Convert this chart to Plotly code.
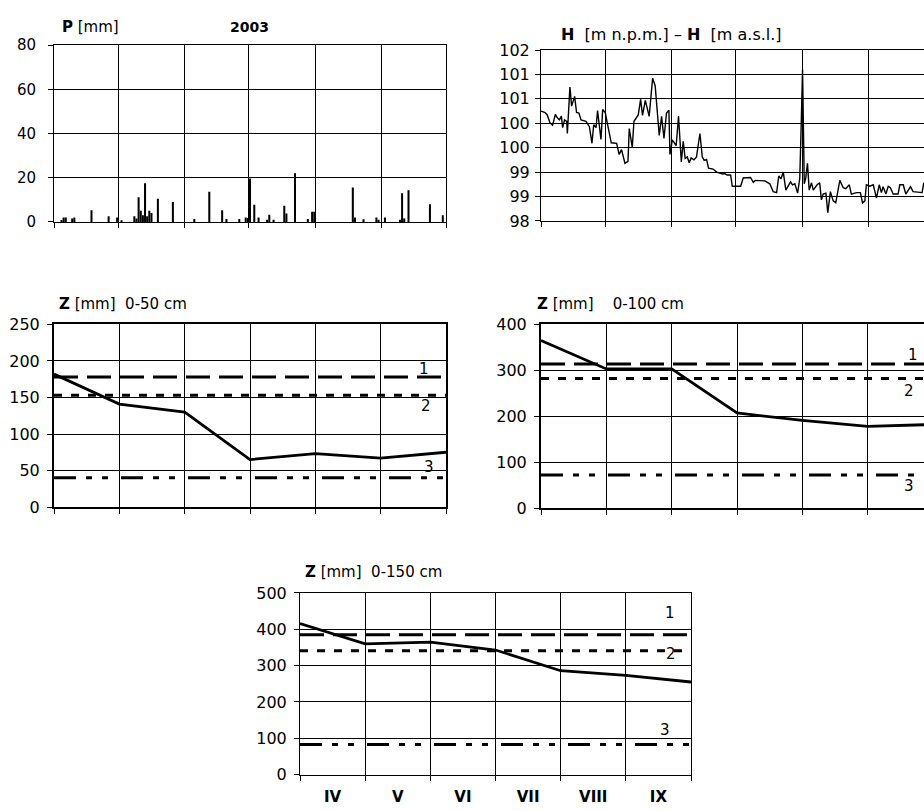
import plotly.graph_objects as go

W, H = 924, 811

# ---- season calendar (1 IV - 30 IX 2003) ----
month_names = ["IV", "V", "VI", "VII", "VIII", "IX"]
month_len = [30, 31, 30, 31, 31, 30]
month_edges = [0]
for n in month_len:
    month_edges.append(month_edges[-1] + n)

# ---- daily precipitation P [mm]; day index counted from 1 April ----
rain_day = [3, 4, 5, 8, 9, 17, 25, 29, 31, 37, 38, 39, 40, 41, 42, 43, 44, 45,
            48, 55, 65, 72, 78, 80, 86, 89, 90, 91, 93, 95, 99, 100, 102, 107,
            108, 112, 118, 120, 121, 139, 140, 144, 150, 151, 154, 161, 162,
            163, 165, 175, 181]
rain_mm = [0.8, 2.0, 2.0, 1.5, 2.0, 5.3, 2.6, 2.0, 0.7, 2.5, 1.5, 11.2, 5.0,
           3.0, 17.5, 2.5, 5.0, 4.0, 10.5, 9.0, 1.3, 13.6, 5.3, 1.3, 1.3, 2.0,
           1.8, 19.6, 7.8, 2.0, 1.0, 3.2, 1.0, 7.3, 3.8, 22.0, 1.3, 4.6, 4.6,
           15.6, 2.0, 1.2, 2.0, 1.0, 2.0, 1.0, 13.0, 1.5, 14.3, 8.0, 3.0]

# ---- water level H [m a.s.l.]; time in days from 1 April ----
stage_day = [0.0, 1.9, 2.9, 4.2, 5.4, 6.7, 7.6, 8.6, 9.5, 10.1, 11.0, 12.0,
             12.3, 13.5, 14.3, 15.7, 16.6, 17.7, 18.7, 21.0, 22.6, 23.8, 24.6,
             25.7, 26.4, 28.0, 28.8, 30.0, 31.1, 32.8, 35.3, 36.5, 37.6, 39.2,
             40.6, 41.2, 42.6, 43.4, 45.4, 46.5, 47.4, 48.7, 50.5, 52.1, 53.3,
             55.2, 56.3, 57.4, 58.6, 59.7, 60.2, 61.3, 63.1, 64.2, 65.5, 66.4,
             67.3, 68.3, 69.2, 70.1, 71.4, 72.6, 74.2, 75.3, 76.2, 77.3, 78.2,
             80.4, 82.0, 83.5, 84.8, 85.8, 86.9, 88.5, 89.3, 93.2, 94.4, 97.8,
             99.1, 100.0, 104.5, 106.8, 108.4, 110.0, 111.0, 112.0, 113.1,
             114.3, 115.4, 116.5, 117.4, 118.5, 119.8, 120.8, 121.5, 122.1,
             122.9, 123.6, 124.4, 125.2, 126.3, 127.1, 128.9, 130.1, 130.9,
             131.7, 133.0, 133.9, 135.1, 136.4, 137.6, 139.5, 141.1, 142.3,
             143.9, 144.9, 147.3, 149.1, 150.1, 151.2, 151.9, 153.5, 155.1,
             156.6, 157.9, 158.9, 159.7, 161.0, 162.1, 163.1, 164.4, 166.7,
             167.5, 169.1, 170.3, 171.9, 172.5, 173.7, 176.1, 177.9, 178.7,
             180.0, 182.0]
stage_m = [100.25, 100.22, 100.17, 100.01, 99.96, 100.18, 100.11, 100.07,
           100.15, 99.91, 100.07, 100.04, 99.79, 100.74, 100.35, 100.55,
           100.22, 100.21, 100.07, 100.04, 99.93, 99.59, 99.97, 99.91, 100.26,
           99.67, 100.28, 100.22, 99.97, 99.60, 99.59, 99.36, 99.46, 99.18,
           99.22, 99.89, 99.51, 100.04, 100.17, 100.49, 100.16, 100.47,
           100.14, 100.92, 100.77, 99.75, 100.14, 99.69, 100.21, 100.27, 99.36,
           99.66, 99.54, 100.15, 99.21, 99.63, 99.28, 99.31, 99.19, 99.29,
           99.25, 99.31, 99.79, 99.31, 99.24, 99.26, 99.08, 99.06, 99.00,
           98.98, 98.96, 98.97, 98.94, 98.94, 98.71, 98.71, 98.88, 98.89,
           98.79, 98.83, 98.82, 98.76, 98.60, 98.58, 98.92, 98.86, 99.00,
           98.63, 98.71, 98.80, 98.74, 98.76, 98.57, 98.87, 100.01, 101.10,
           98.76, 98.88, 99.18, 98.63, 98.78, 98.63, 98.74, 98.78, 98.43,
           98.55, 98.57, 98.17, 98.60, 98.41, 98.37, 98.83, 98.68, 98.66,
           98.74, 98.55, 98.58, 98.58, 98.37, 98.41, 98.74, 98.71, 98.74,
           98.47, 98.74, 98.58, 98.70, 98.55, 98.71, 98.68, 98.55, 98.55,
           98.74, 98.74, 98.55, 98.66, 98.70, 98.60, 98.58, 98.58, 98.78,
           98.70, 98.66]
stage_ticks = [98.0, 98.5, 99.0, 99.5, 100.0, 100.5, 101.0, 101.5]
stage_tick_text = ["98", "99", "99", "100", "100", "101", "101", "102"]

# ---- soil water storage Z [mm] at month boundaries (1 IV ... 1 X) ----
z50 = [182, 141, 130, 65, 73, 67, 75]
z100 = [365, 303, 303, 207, 191, 178, 182]
z150 = [416, 360, 365, 343, 286, 273, 255]
# reference storage levels 1, 2, 3 for each layer
z50_levels = [178, 153, 40]
z100_levels = [314, 282, 72]
z150_levels = [385, 341, 83]
level_names = ["1", "2", "3"]

TICK_FONT = dict(family="DejaVu Sans", size=16, color="black")
TEXT_FONT = dict(family="DejaVu Sans", size=15, color="black")


def xdom(left, right):
    return [left / W, min(right / W, 1.0)]


def ydom(top, bottom):
    return [1 - bottom / H, 1 - top / H]


fig = go.Figure()

# panel boxes in pixels: (left, right, top, bottom)
panels = {
    "1": (54, 446, 37, 218),    # precipitation
    "2": (541, 933, 42, 217),   # water level (right part runs off the page)
    "3": (54, 446, 323, 510),   # Z 0-50 cm
    "4": (541, 933, 323, 511),  # Z 0-100 cm (right part runs off the page)
    "5": (300, 691, 598, 784),  # Z 0-150 cm
}

axis_common = dict(showline=True, linecolor="black", linewidth=1,
                   ticks="outside", ticklen=5, tickcolor="black",
                   zeroline=False, gridcolor="black", gridwidth=1)

for k, (l, r, t, b) in panels.items():
    xa = "xaxis" if k == "1" else f"xaxis{k}"
    ya = "yaxis" if k == "1" else f"yaxis{k}"
    clipped = r > W
    fig.layout[xa] = dict(axis_common, domain=xdom(l, r), anchor=f"y{'' if k == '1' else k}",
                          mirror=True)
    fig.layout[ya] = dict(axis_common, domain=ydom(t, b), anchor=f"x{'' if k == '1' else k}",
                          mirror=not clipped, tickfont=TICK_FONT)

# fraction of the full axis that is visible on the clipped panels
vis = (W - panels["2"][0]) / (panels["2"][1] - panels["2"][0])

# ---- P panel ----
fig.add_trace(go.Bar(x=[d + 0.5 for d in rain_day], y=rain_mm, width=0.95,
                     marker=dict(color="black", line=dict(width=0)),
                     xaxis="x", yaxis="y"))
fig.update_layout(
    xaxis=dict(range=[0, month_edges[-1]], tickvals=month_edges, showticklabels=False,
               showgrid=True),
    yaxis=dict(range=[0, 80], tickvals=[0, 20, 40, 60, 80], showgrid=True,
               tickfont=dict(family="DejaVu Sans", size=15, color="black"),
               ticklabelstandoff=9),
)

# ---- H panel ----
fig.add_trace(go.Scatter(x=stage_day, y=stage_m, mode="lines",
                         line=dict(color="black", width=1.4), xaxis="x2", yaxis="y2"))
fig.update_layout(
    xaxis2=dict(range=[0, month_edges[-1] * vis], tickvals=month_edges,
                showticklabels=False, showgrid=True),
    yaxis2=dict(range=[98, 101.5], tickvals=stage_ticks, ticktext=stage_tick_text,
                showgrid=True, ticklabelstandoff=2),
)

# ---- Z panels ----
DASHES = ["24px,9px", "8px,9px", "22px,10px,6px,10px,6px,13px"]
z_sets = [
    ("3", z50, z50_levels, [0, 250], [0, 50, 100, 150, 200, 250], 6, [8, -11, 11]),
    ("4", z100, z100_levels, [0, 400], [0, 100, 200, 300, 400], 6 * vis, [9, -12, -11]),
    ("5", z150, z150_levels, [0, 500], [0, 100, 200, 300, 400, 500], 6, [22, -3, 14]),
]
label_pos = {"3": [5.66, 5.69, 5.74], "4": [5.69, 5.63, 5.63], "5": [5.68, 5.69, 5.6]}

for k, zs, levels, yr, yt, xmax, shifts in z_sets:
    xs = list(range(len(zs)))
    for lev, dash in zip(levels, DASHES):
        fig.add_trace(go.Scatter(x=[0, len(zs) - 1], y=[lev, lev], mode="lines",
                                 line=dict(color="black", width=3, dash=dash),
                                 xaxis=f"x{k}", yaxis=f"y{k}"))
    fig.add_trace(go.Scatter(x=xs, y=zs, mode="lines",
                             line=dict(color="black", width=2.8),
                             xaxis=f"x{k}", yaxis=f"y{k}"))
    fig.layout[f"yaxis{k}"].update(range=yr, tickvals=yt, showgrid=True,
                                   ticklabelstandoff=4)
    for name, lev, xp, sh in zip(level_names, levels, label_pos[k], shifts):
        fig.add_annotation(x=xp, y=lev, xref=f"x{k}", yref=f"y{k}", text=name,
                           showarrow=False, yshift=sh, font=dict(TEXT_FONT, size=15))
    if k == "5":
        fig.layout[f"xaxis{k}"].update(
            range=[0, xmax], tickvals=[i + 0.5 for i in range(len(month_names))],
            ticktext=[f"<b>{m}</b>" for m in month_names], ticks="", showgrid=False,
            tickfont=dict(family="DejaVu Sans", size=15, color="black"),
            ticklabelstandoff=8,
            minor=dict(tick0=0, dtick=1, ticks="outside", ticklen=5, tickcolor="black",
                       showgrid=True, gridcolor="black", gridwidth=1))
    else:
        fig.layout[f"xaxis{k}"].update(range=[0, xmax], tickvals=xs, showticklabels=False,
                                       showgrid=True)
        fig.layout[f"xaxis{k}"].linewidth = 2
        fig.layout[f"yaxis{k}"].linewidth = 2

# ---- panel titles ----
def title(text, xpix, ypix, anchor="left", size=15):
    fig.add_annotation(x=xpix / W, y=1 - ypix / H, xref="paper", yref="paper",
                       text=text, showarrow=False, xanchor=anchor, yanchor="middle",
                       font=dict(TEXT_FONT, size=size))

NB = "\u00a0"
title("<b>P</b> [mm]", 60, 18)
title("<b>2003</b>", 249, 18, anchor="center", size=14)
title(f"<b>H</b>{NB}{NB}[m n.p.m.] – <b>H</b>{NB}{NB}[m a.s.l.]", 559, 26, size=16)
title(f"<b>Z</b> [mm]{NB}{NB}0-50 cm", 57, 302)
title(f"<b>Z</b> [mm]{NB}{NB}{NB}{NB}0-100 cm", 535, 302)
title(f"<b>Z</b> [mm]{NB}{NB}0-150 cm", 303, 577)

fig.update_layout(width=W, height=H, margin=dict(l=0, r=0, t=0, b=0),
                  paper_bgcolor="white", plot_bgcolor="white", showlegend=False,
                  font=TEXT_FONT)

fig.write_html("out.html")
